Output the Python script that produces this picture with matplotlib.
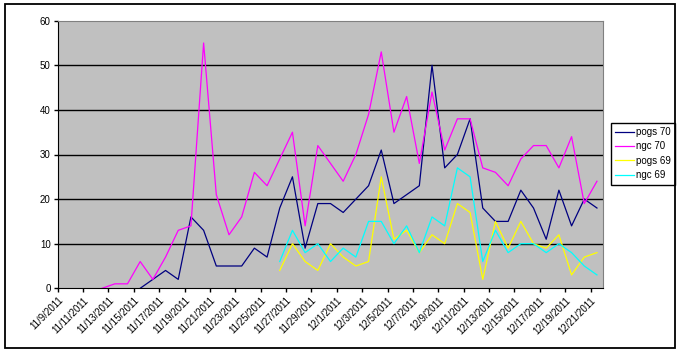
import numpy as np
import pandas as pd
import matplotlib
matplotlib.use('Agg')
import matplotlib.pyplot as plt
import matplotlib.dates as mdates
from matplotlib.patches import Rectangle

nan = np.nan

# one value per day, 11/9/2011 .. 12/21/2011
dates = pd.date_range('2011-11-09', '2011-12-21', freq='D')

pogs_70 = [nan, nan, nan, nan, nan, nan, 0, 2, 4, 2, 16, 13, 5, 5, 5, 9, 7, 18, 25, 9,
           19, 19, 17, 20, 23, 31, 19, 21, 23, 50, 27, 30, 38, 18, 15, 15, 22, 18, 11, 22,
           14, 20, 18]
ngc_70 = [nan, nan, nan, 0, 1, 1, 6, 2, 7, 13, 14, 55, 21, 12, 16, 26, 23, 29, 35, 14,
          32, 28, 24, 30, 39, 53, 35, 43, 28, 44, 31, 38, 38, 27, 26, 23, 29, 32, 32, 27,
          34, 19, 24]
pogs_69 = [nan] * 17 + [4, 10, 6, 4, 10, 7, 5, 6, 25, 11, 13, 8, 12, 10, 19, 17, 2, 15,
                        9, 15, 10, 9, 12, 3, 7, 8]
ngc_69 = [nan] * 17 + [6, 13, 8, 10, 6, 9, 7, 15, 15, 10, 14, 8, 16, 14, 27, 25, 6, 13,
                       8, 10, 10, 8, 10, 8, 5, 3]

series = [
    ('pogs 70', pogs_70, '#000080'),
    ('ngc 70', ngc_70, '#FF00FF'),
    ('pogs 69', pogs_69, '#FFFF00'),
    ('ngc 69', ngc_69, '#00FFFF'),
]

plt.rcParams['font.family'] = ['Liberation Sans', 'DejaVu Sans']

W, H = 683, 355
fig = plt.figure(figsize=(W / 100, H / 100), dpi=100)
fig.patch.set_facecolor('white')

# outer chart border
fig.patches.append(Rectangle((4.5 / W, 1 - 348 / H), 670 / W, 344 / H,
                             transform=fig.transFigure, fill=False,
                             edgecolor='black', linewidth=1.3))

ax = fig.add_axes([57.7 / W, 1 - 288.3 / H, 545.6 / W, 267.6 / H])
ax.set_facecolor('#C0C0C0')

x = dates + pd.Timedelta(hours=12)
for name, vals, col in series:
    ax.plot(x, vals, color=col, linewidth=0.9, label=name)

ax.set_xlim(dates[0], dates[-1] + pd.Timedelta(days=1))
ax.set_ylim(0, 60)
ax.set_yticks(range(0, 61, 10))
for v in range(10, 60, 10):
    ax.axhline(v, color='black', linewidth=1.0, zorder=1)

ticks = dates[::2]
ax.set_xticks(ticks)
ax.set_xticklabels([f'{d.month}/{d.day}/{d.year}' for d in ticks],
                   rotation=45, ha='right', rotation_mode='anchor', fontsize=7)
ax.tick_params(axis='x', length=3, width=1, pad=2)
ax.tick_params(axis='y', length=3, width=1, labelsize=7, pad=2)

for side in ['top', 'right']:
    ax.spines[side].set_color('#808080')
for side in ['left', 'bottom']:
    ax.spines[side].set_color('black')

leg = ax.legend(loc='upper left', bbox_to_anchor=(611 / W, 1 - 122.7 / H),
                bbox_transform=fig.transFigure, borderaxespad=0,
                fancybox=False, edgecolor='black', framealpha=1, fontsize=7,
                handlelength=1.9, handletextpad=0.2, labelspacing=0.45,
                borderpad=0.45)
leg.get_frame().set_linewidth(1.0)

fig.savefig('out.png', dpi=100)
